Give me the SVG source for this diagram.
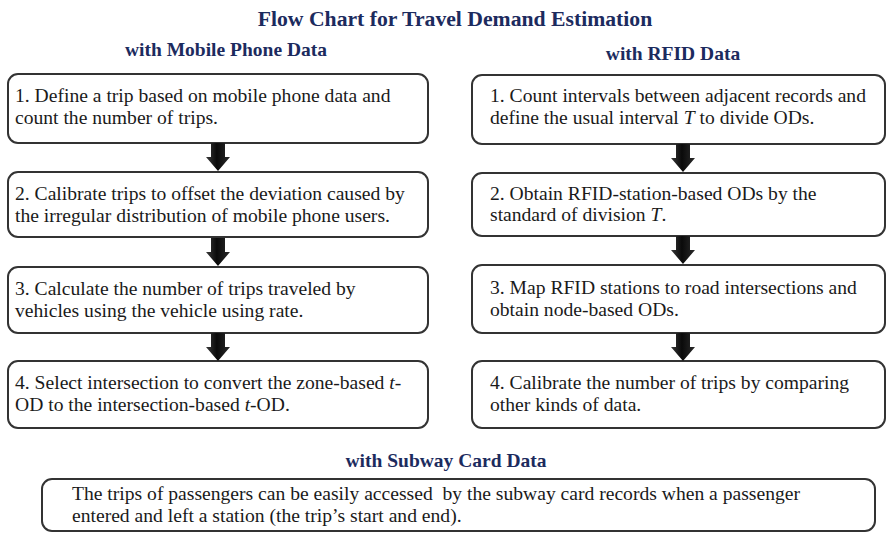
<svg xmlns="http://www.w3.org/2000/svg" width="886" height="534" viewBox="0 0 886 534">
  <defs>
    <linearGradient id="arrowFill" x1="0" y1="0" x2="1" y2="0">
      <stop offset="0" stop-color="#3a3a3a"/>
      <stop offset="0.45" stop-color="#0a0a0a"/>
      <stop offset="1" stop-color="#2a2a2a"/>
    </linearGradient>
    <!-- block arrow pointing down, origin at top centre of the shaft -->
    <path id="downArrow" d="M-7,0 H7 V14 H12 L0,28 L-12,14 H-7 Z"/>
  </defs>
  <style>
    .title { font-family: "Liberation Serif", "Times New Roman", serif; font-weight: bold; fill: #1c2b5e; }
    .box { fill: #ffffff; stroke: #333333; stroke-width: 2; }
    .txt { font-family: "Liberation Serif", "Times New Roman", serif; font-size: 19.6px; fill: #1a1a1a; }
    .arrow { fill: url(#arrowFill); }
  </style>
  <rect width="886" height="534" fill="#ffffff"/>

  <!-- headings -->
  <text class="title" x="455" y="26" font-size="21.7" text-anchor="middle">Flow Chart for Travel Demand Estimation</text>
  <text class="title" x="226" y="56" font-size="19.5" text-anchor="middle">with Mobile Phone Data</text>
  <text class="title" x="673" y="60" font-size="19.5" text-anchor="middle">with RFID Data</text>
  <text class="title" x="446" y="467" font-size="19.5" text-anchor="middle">with Subway Card Data</text>

  <!-- mobile phone column -->
  <g id="mobile-1">
    <rect class="box" x="8" y="74" width="420" height="69" rx="10"/>
    <text class="txt" x="15" y="102">1. Define a trip based on mobile phone data and</text>
    <text class="txt" x="15" y="124">count the number of trips.</text>
  </g>
  <g id="mobile-2">
    <rect class="box" x="8" y="172" width="420" height="65" rx="10"/>
    <text class="txt" x="15" y="200">2. Calibrate trips to offset the deviation caused by</text>
    <text class="txt" x="15" y="222">the irregular distribution of mobile phone users.</text>
  </g>
  <g id="mobile-3">
    <rect class="box" x="8" y="267" width="420" height="66" rx="10"/>
    <text class="txt" x="15" y="295">3. Calculate the number of trips traveled by</text>
    <text class="txt" x="15" y="317">vehicles using the vehicle using rate.</text>
  </g>
  <g id="mobile-4">
    <rect class="box" x="8" y="361" width="420" height="67" rx="10"/>
    <text class="txt" x="15" y="389">4. Select intersection to convert the zone-based <tspan font-style="italic">t</tspan>-</text>
    <text class="txt" x="15" y="411">OD to the intersection-based <tspan font-style="italic">t</tspan>-OD.</text>
  </g>

  <!-- RFID column -->
  <g id="rfid-1">
    <rect class="box" x="472" y="75" width="413" height="69" rx="10"/>
    <text class="txt" x="490" y="102">1. Count intervals between adjacent records and</text>
    <text class="txt" x="490" y="124">define the usual interval <tspan font-style="italic">T</tspan> to divide ODs.</text>
  </g>
  <g id="rfid-2">
    <rect class="box" x="472" y="173" width="413" height="63" rx="10"/>
    <text class="txt" x="490" y="200">2. Obtain RFID-station-based ODs by the</text>
    <text class="txt" x="490" y="221">standard of division <tspan font-style="italic">T</tspan>.</text>
  </g>
  <g id="rfid-3">
    <rect class="box" x="472" y="265" width="413" height="68" rx="10"/>
    <text class="txt" x="490" y="294">3. Map RFID stations to road intersections and</text>
    <text class="txt" x="490" y="316">obtain node-based ODs.</text>
  </g>
  <g id="rfid-4">
    <rect class="box" x="472" y="361" width="413" height="67" rx="10"/>
    <text class="txt" x="490" y="389">4. Calibrate the number of trips by comparing</text>
    <text class="txt" x="490" y="411">other kinds of data.</text>
  </g>

  <!-- subway card -->
  <g id="subway">
    <rect class="box" x="42" y="479" width="833" height="52" rx="10"/>
    <text class="txt" x="72" y="500" style="white-space: pre">The trips of passengers can be easily accessed  by the subway card records when a passenger</text>
    <text class="txt" x="72" y="522">entered and left a station (the trip’s start and end).</text>
  </g>

  <!-- connectors -->
  <g id="connectors">
    <use href="#downArrow" class="arrow" x="218" y="143"/>
    <use href="#downArrow" class="arrow" x="218" y="238"/>
    <use href="#downArrow" class="arrow" x="218" y="333"/>
    <use href="#downArrow" class="arrow" x="683" y="144"/>
    <use href="#downArrow" class="arrow" x="683" y="236"/>
    <use href="#downArrow" class="arrow" x="683" y="333"/>
  </g>
</svg>
